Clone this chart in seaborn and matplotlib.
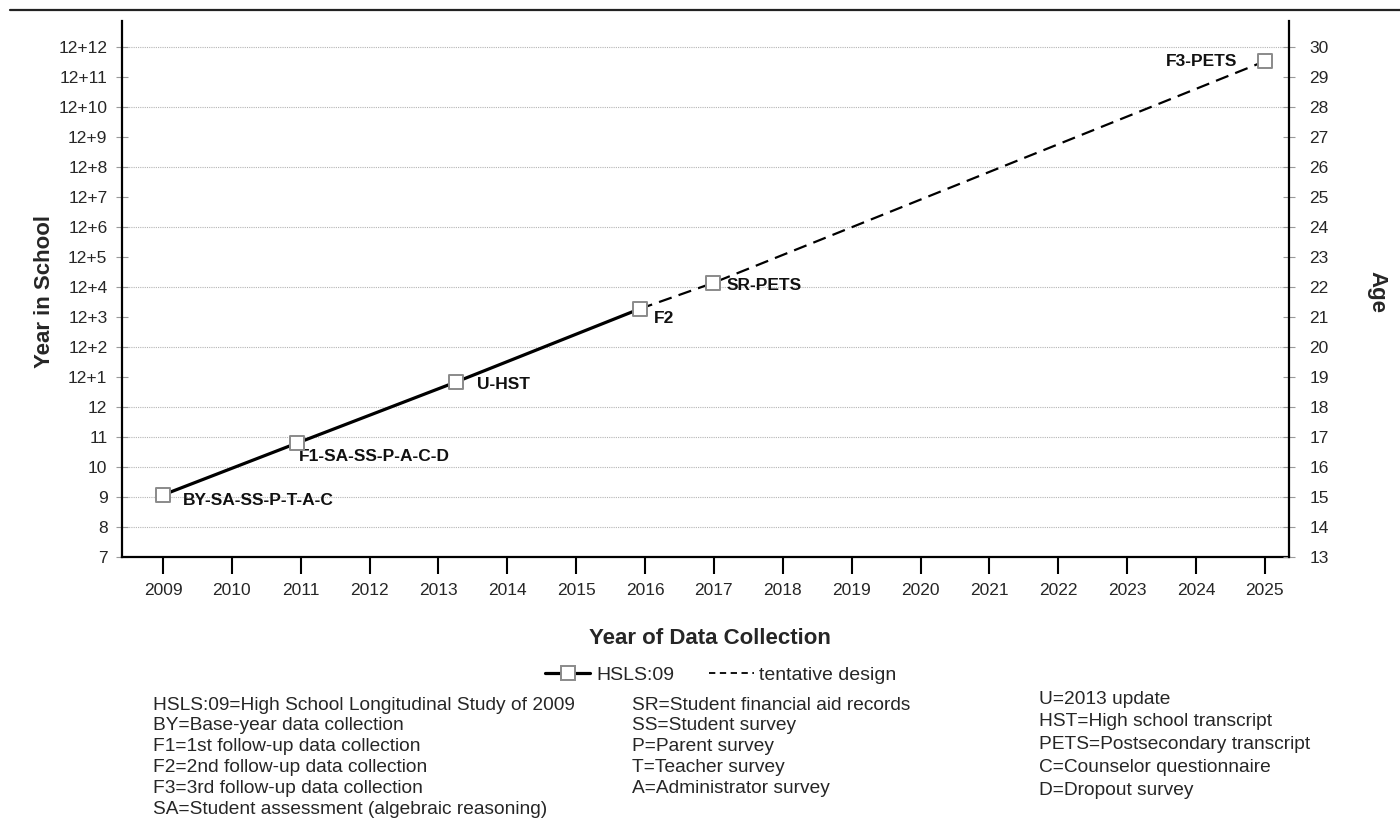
import matplotlib.pyplot as plt
import seaborn as sns
import pandas as pd
from matplotlib.lines import Line2D

# data collection waves
waves = ["BY-SA-SS-P-T-A-C", "F1-SA-SS-P-A-C-D", "U-HST", "F2", "SR-PETS", "F3-PETS"]
collection_year = [2009.0, 2010.95, 2013.25, 2015.92, 2016.98, 2025.0]
year_in_school = [9.07, 10.8, 12.83, 15.27, 16.13, 23.53]

year_ticks = [2009, 2010, 2011, 2012, 2013, 2014, 2015, 2016, 2017,
              2018, 2019, 2020, 2021, 2022, 2023, 2024, 2025]
school_ticks = [7, 8, 9, 10, 11, 12, 13, 14, 15, 16, 17, 18, 19, 20, 21, 22, 23, 24]
school_labels = ["7", "8", "9", "10", "11", "12", "12+1", "12+2", "12+3", "12+4",
                 "12+5", "12+6", "12+7", "12+8", "12+9", "12+10", "12+11", "12+12"]
age_ticks = [13, 14, 15, 16, 17, 18, 19, 20, 21, 22, 23, 24, 25, 26, 27, 28, 29, 30]
age_labels = ["13", "14", "15", "16", "17", "18", "19", "20", "21",
              "22", "23", "24", "25", "26", "27", "28", "29", "30"]
grid_levels = [8, 9, 10, 11, 12, 14, 16, 18, 20, 22, 24]

notes_col1 = ["HSLS:09=High School Longitudinal Study of 2009",
              "BY=Base-year data collection",
              "F1=1st follow-up data collection",
              "F2=2nd follow-up data collection",
              "F3=3rd follow-up data collection",
              "SA=Student assessment (algebraic reasoning)"]
notes_col2 = ["SR=Student financial aid records",
              "SS=Student survey",
              "P=Parent survey",
              "T=Teacher survey",
              "A=Administrator survey"]
notes_col3 = ["U=2013 update",
              "HST=High school transcript",
              "PETS=Postsecondary transcript",
              "C=Counselor questionnaire",
              "D=Dropout survey"]

df = pd.DataFrame({"wave": waves, "year": collection_year, "school": year_in_school})

sns.set_theme(style="white")
plt.rcParams['font.family'] = ['Liberation Sans', 'DejaVu Sans']

fig = plt.figure(figsize=(14, 8.4), dpi=100)
ax = fig.add_axes([122 / 1400, 1 - 557 / 840, 1167 / 1400, 536 / 840])

for lvl in grid_levels:
    ax.axhline(lvl, color="#b5b5b5", lw=0.8, ls=(0, (1, 1)), zorder=0)

# solid part (done) and dashed part (tentative)
sns.lineplot(data=df.iloc[:4], x="year", y="school", color="black", lw=2.3,
             sort=False, ax=ax, zorder=2)
sns.lineplot(data=df.iloc[3:], x="year", y="school", color="black", lw=1.6,
             ls=(0, (6, 3.3)), sort=False, ax=ax, zorder=2)
sns.scatterplot(data=df, x="year", y="school", marker="s", s=95, color="white",
                edgecolor="#8a8a8a", linewidth=1.4, zorder=5, ax=ax)

# label offsets in points (dx, dy, ha)
offsets = [(14, -4, "left"), (1.5, -10, "left"), (15, -2, "left"),
           (10, -7, "left"), (10, -2, "left"), (-20, 0, "right")]
for (name, x, y), (dx, dy, ha) in zip(df[["wave", "year", "school"]].values, offsets):
    ax.annotate(name, (x, y), xytext=(dx, dy), textcoords="offset points",
                ha=ha, va="center", fontsize=12.5, fontweight="bold", color="#111111")

ax.set_xlim(2008.405, 2025.35)
ax.set_ylim(7, 24.87)
ax.set_xticks(year_ticks, [str(y) for y in year_ticks])
ax.set_yticks(school_ticks, school_labels)
ax.set_xlabel("")
ax.set_ylabel("")
ax.tick_params(axis="x", direction="out", length=12, width=1.5, color="black",
               labelsize=12.5, pad=7, bottom=True)
ax.tick_params(axis="y", direction="inout", length=9, width=0.8, color="#9a9a9a",
               labelsize=12.5, pad=6, left=True)

ax2 = ax.twinx()
ax2.set_ylim(13, 30.87)
ax2.set_yticks(age_ticks, age_labels)
ax2.tick_params(axis="y", direction="inout", length=9, width=0.8, color="#9a9a9a",
                labelsize=12.5, pad=10, right=True)
ax2.grid(False)

for a in (ax, ax2):
    a.spines["top"].set_visible(False)
    for s in ("left", "right", "bottom"):
        a.spines[s].set_color("black")
        a.spines[s].set_linewidth(1.6)
ax.spines["right"].set_visible(False)
ax2.spines["left"].set_visible(False)
ax2.spines["bottom"].set_visible(False)

fig.text(45 / 1400, 1 - 292 / 840, "Year in School", rotation=90, fontsize=16,
         fontweight="bold", ha="center", va="center")
fig.text(1377 / 1400, 1 - 292 / 840, "Age", rotation=270, fontsize=16,
         fontweight="bold", ha="center", va="center")
fig.text(710 / 1400, 1 - 639 / 840, "Year of Data Collection", fontsize=16,
         fontweight="bold", ha="center", va="center")

# legend
handles = [Line2D([], [], color="black", lw=2.3, marker="s", markersize=10,
                  markerfacecolor="white", markeredgecolor="#8a8a8a", markeredgewidth=1.4),
           Line2D([], [], color="black", lw=1.3, ls=(0, (3.5, 2.5)))]
fig.legend(handles, ["HSLS:09", "tentative design"], loc="center",
           bbox_to_anchor=(721 / 1400, 1 - 675 / 840), ncol=2, frameon=False,
           fontsize=14, handlelength=2.3, handletextpad=0.3, columnspacing=1.8)

# footnotes
for i, line in enumerate(notes_col1):
    fig.text(153 / 1400, 1 - (705 + i * 20.8) / 840, line, fontsize=13.8, va="center")
for i, line in enumerate(notes_col2):
    fig.text(632 / 1400, 1 - (705 + i * 20.8) / 840, line, fontsize=13.8, va="center")
for i, line in enumerate(notes_col3):
    fig.text(1039 / 1400, 1 - (699 + i * 22.8) / 840, line, fontsize=13.8, va="center")

# rule across the top
fig.add_artist(Line2D([10 / 1400, 1], [1 - 10 / 840, 1 - 10 / 840], color="#222222", lw=1.6))

fig.savefig("out.png", dpi=100)
